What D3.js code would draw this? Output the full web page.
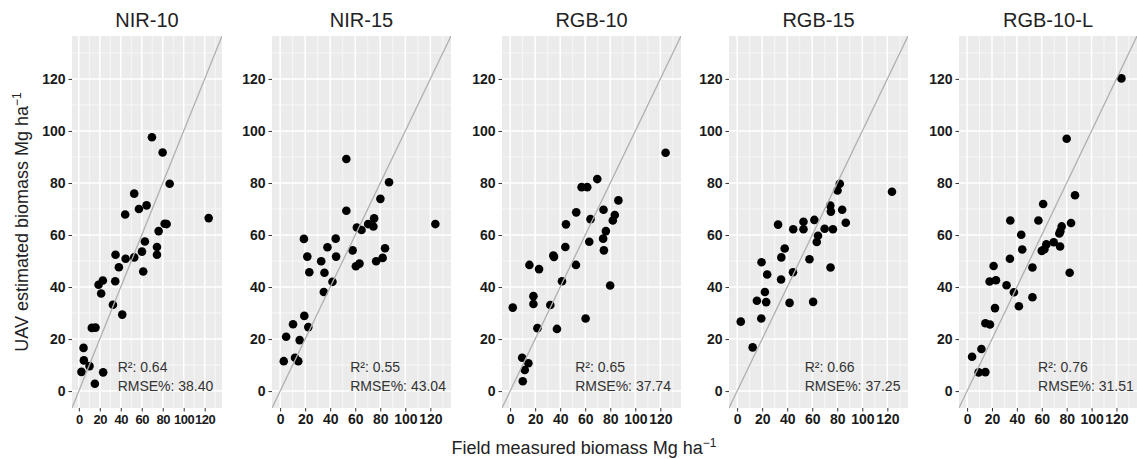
<!DOCTYPE html>
<meta charset="utf-8">
<script src="https://d3js.org/d3.v7.min.js"></script>
<style>
  body { margin: 0; background: #fff; }
  text { font-family: "Liberation Sans", Arial, sans-serif; }
</style>
<div id="chart"></div>
<script>
// panel titles and fit statistics
var panelNames = ["NIR-10", "NIR-15", "RGB-10", "RGB-15", "RGB-10-L"];
var r2Values = ["0.64", "0.55", "0.65", "0.66", "0.76"];
var rmseValues = ["38.40", "43.04", "37.74", "37.25", "31.51"];
var tickValues = [0, 20, 40, 60, 80, 100, 120];
var minorValues = [10, 30, 50, 70, 90, 110, 130];

// field measured (x) vs UAV estimated (y)
var nir10 = [[69.7,97.6],[79.9,91.7],[86.6,79.7],[52.8,75.9],[57.3,70.0],[64.6,71.4],[44.2,67.9],[123.8,66.5],
  [81.8,64.3],[83.7,64.2],[76.1,61.5],[63.0,57.5],[74.5,55.4],[74.5,52.4],[60.2,53.6],[35.0,52.4],[44.6,50.9],
  [52.8,51.4],[38.2,47.6],[61.4,46.0],[34.7,42.2],[18.8,40.9],[22.9,42.5],[21.3,37.5],[32.5,33.2],[41.4,29.4],
  [12.4,24.3],[15.9,24.4],[4.5,16.6],[4.8,11.8],[10.2,9.6],[2.5,7.4],[23.2,7.2],[15.3,2.8]];
var nir15 = [[52.9,89.2],[87.0,80.3],[80.1,73.9],[52.9,69.3],[75.1,66.4],[124.0,64.2],[70.3,64.2],[74.5,63.3],
  [61.3,62.9],[65.0,61.9],[19.0,58.5],[44.4,58.6],[37.8,55.3],[57.9,54.1],[83.8,54.9],[21.7,51.7],[44.7,51.7],
  [32.8,49.9],[81.9,51.2],[76.7,49.9],[63.4,49.0],[60.5,48.0],[23.3,45.7],[35.4,45.5],[41.8,42.0],[34.9,38.1],
  [19.3,28.9],[10.3,25.7],[22.5,24.6],[4.8,20.9],[15.6,19.6],[2.9,11.5],[11.9,12.8],[14.5,11.5]];
var rgb10 = [[124.2,91.6],[69.6,81.5],[57.1,78.4],[61.6,78.4],[86.5,73.3],[52.8,68.7],[74.6,69.7],[83.6,67.7],
  [82.0,65.6],[64.2,66.1],[44.6,64.1],[76.5,61.5],[74.3,58.6],[63.2,57.4],[44.1,55.4],[74.9,54.1],[34.5,52.1],
  [35.0,51.6],[15.4,48.5],[52.6,48.5],[23.1,46.9],[41.4,42.2],[79.9,40.6],[18.6,36.5],[18.6,33.5],[32.1,33.1],
  [2.1,32.1],[60.3,27.9],[21.8,24.2],[37.4,23.9],[9.6,12.8],[14.6,10.7],[11.7,8.1],[10.1,3.8]];
var rgb15 = [[82.0,79.7],[80.2,77.1],[123.7,76.6],[74.4,71.3],[74.9,69.0],[83.9,69.7],[86.8,64.7],[53.0,65.1],
  [61.7,65.8],[32.7,64.0],[44.8,62.2],[53.0,62.2],[69.9,62.4],[76.5,62.2],[64.6,59.7],[63.6,57.3],[38.0,54.8],
  [35.3,51.4],[57.8,50.7],[19.5,49.5],[74.6,47.5],[44.6,45.7],[24.0,44.8],[35.1,42.9],[22.2,38.1],[15.8,34.7],
  [23.2,34.2],[41.9,33.9],[60.7,34.3],[19.3,27.9],[2.9,26.7],[12.4,16.8]];
var rgb10L = [[124.0,120.2],[80.0,97.0],[86.7,75.3],[61.1,71.9],[34.7,65.6],[57.3,65.6],[83.5,64.6],[76.0,63.3],
  [74.9,61.4],[74.1,60.6],[43.5,60.1],[69.6,57.2],[63.7,56.4],[62.1,54.5],[60.0,53.9],[74.7,55.6],[44.3,54.4],
  [34.4,50.9],[21.3,48.1],[52.5,47.5],[18.1,42.1],[23.2,42.6],[82.4,45.5],[31.7,40.7],[37.6,38.0],[41.6,32.6],
  [52.5,36.1],[22.4,31.9],[14.7,26.1],[18.4,25.6],[11.5,16.2],[4.0,13.2],[9.3,7.2],[14.7,7.3]];
var panelData = [nir10, nir15, rgb10, rgb15, rgb10L];
// where the statistics label starts, in data units
var labelX = [37, 56, 52, 54, 57];

var width = 1137, height = 459;
var domain = [-6.5, 136.5];
var panelTop = 36, panelBottom = 408;
var panels = [
  { left: 72, width: 150 },
  { left: 272, width: 179 },
  { left: 502, width: 179 },
  { left: 729, width: 179 },
  { left: 959, width: 178 }
];

var svg = d3.select("#chart").append("svg")
  .attr("width", width)
  .attr("height", height);

var y = d3.scaleLinear().domain(domain).range([panelBottom, panelTop]);

panels.forEach(function(p, i) {
  var x = d3.scaleLinear().domain(domain).range([p.left, p.left + p.width]);
  var g = svg.append("g");

  g.append("clipPath").attr("id", "clip" + i)
    .append("rect")
    .attr("x", p.left).attr("y", panelTop)
    .attr("width", p.width).attr("height", panelBottom - panelTop);

  g.append("rect")
    .attr("x", p.left).attr("y", panelTop)
    .attr("width", p.width).attr("height", panelBottom - panelTop)
    .attr("fill", "#ebebeb");

  // minor grid
  g.selectAll(null).data(minorValues).enter().append("line")
    .attr("x1", d => x(d)).attr("x2", d => x(d))
    .attr("y1", panelTop).attr("y2", panelBottom)
    .attr("stroke", "#fafafa").attr("stroke-width", 0.8);
  g.selectAll(null).data(minorValues).enter().append("line")
    .attr("y1", d => y(d)).attr("y2", d => y(d))
    .attr("x1", p.left).attr("x2", p.left + p.width)
    .attr("stroke", "#fafafa").attr("stroke-width", 0.8);
  // major grid
  g.selectAll(null).data(tickValues).enter().append("line")
    .attr("x1", d => x(d)).attr("x2", d => x(d))
    .attr("y1", panelTop).attr("y2", panelBottom)
    .attr("stroke", "#fff").attr("stroke-width", 1.5);
  g.selectAll(null).data(tickValues).enter().append("line")
    .attr("y1", d => y(d)).attr("y2", d => y(d))
    .attr("x1", p.left).attr("x2", p.left + p.width)
    .attr("stroke", "#fff").attr("stroke-width", 1.5);

  // points
  g.append("g").attr("clip-path", "url(#clip" + i + ")")
    .selectAll("circle").data(panelData[i]).enter().append("circle")
    .attr("cx", d => x(d[0]))
    .attr("cy", d => y(d[1]))
    .attr("r", 4.3)
    .attr("fill", "#000");

  // 1:1 line
  g.append("line")
    .attr("clip-path", "url(#clip" + i + ")")
    .attr("x1", x(domain[0])).attr("y1", y(domain[0]))
    .attr("x2", x(domain[1])).attr("y2", y(domain[1]))
    .attr("stroke", "#b0b0b0").attr("stroke-width", 1.3);

  // axes
  var xAxis = g.append("g")
    .attr("transform", "translate(0," + panelBottom + ")")
    .call(d3.axisBottom(x).tickValues(tickValues).tickSize(3.5).tickPadding(3));
  var yAxis = g.append("g")
    .attr("transform", "translate(" + p.left + ",0)")
    .call(d3.axisLeft(y).tickValues(tickValues).tickSize(3.5).tickPadding(3));
  [xAxis, yAxis].forEach(function(a) {
    a.select(".domain").remove();
    a.selectAll(".tick line").attr("stroke", "#333");
    a.selectAll(".tick text")
      .attr("fill", "#1a1a1a")
      .attr("font-size", "14px")
      .attr("font-weight", "bold")
      .attr("font-family", "Liberation Sans, Arial, sans-serif");
  });
  // the first panel is narrower, so its x labels sit tighter
  if (p.width < 160) {
    xAxis.selectAll(".tick text")
      .attr("font-size", "13px")
      .attr("letter-spacing", "-0.5px");
  }

  // title
  g.append("text")
    .attr("x", p.left + p.width / 2)
    .attr("y", 27)
    .attr("text-anchor", "middle")
    .attr("font-size", "20px")
    .attr("fill", "#222")
    .text(panelNames[i]);

  // statistics
  g.append("text")
    .attr("x", x(labelX[i])).attr("y", y(7.5))
    .attr("font-size", "14px").attr("fill", "#333")
    .text("R\u00b2: " + r2Values[i]);
  g.append("text")
    .attr("x", x(labelX[i])).attr("y", y(0))
    .attr("font-size", "14px").attr("fill", "#333")
    .text("RMSE%: " + rmseValues[i]);
});

// axis titles
var xt = svg.append("text")
  .attr("x", 584).attr("y", 454)
  .attr("text-anchor", "middle")
  .attr("font-size", "18px").attr("fill", "#222");
xt.append("tspan").text("Field measured biomass Mg  ha");
xt.append("tspan").attr("dy", -7).attr("font-size", "12px").text("\u22121");

var yt = svg.append("text")
  .attr("transform", "translate(28," + (panelTop + panelBottom) / 2 + ") rotate(-90)")
  .attr("text-anchor", "middle")
  .attr("font-size", "18px").attr("fill", "#222");
yt.append("tspan").text("UAV estimated biomass Mg  ha");
yt.append("tspan").attr("dy", -7).attr("font-size", "12px").text("\u22121");
</script>
